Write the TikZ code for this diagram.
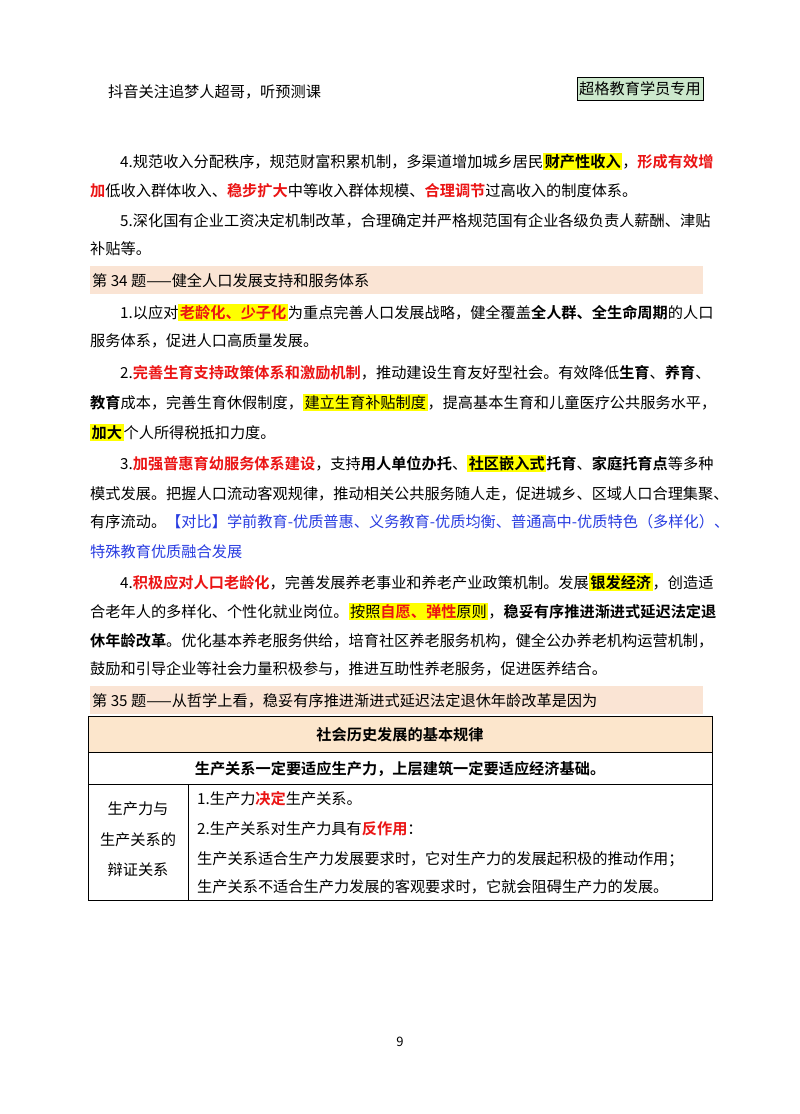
\documentclass[tikz,border=0pt]{standalone}
\usepackage{fontspec}
\setmainfont{Noto Sans CJK SC}[BoldFont={Noto Sans CJK SC Bold}]
\definecolor{myred}{RGB}{235,20,20}
\definecolor{hl}{RGB}{255,255,0}
\definecolor{band}{RGB}{250,228,212}
\definecolor{thead}{RGB}{252,230,204}
\definecolor{myblue}{RGB}{40,60,225}
\definecolor{grn}{RGB}{204,232,204}
\newcommand\B[1]{{\bfseries #1}}
\newcommand\R[1]{{\bfseries\color{myred}#1}}
\newcommand\Y[1]{{\setlength{\fboxsep}{1.5pt}\colorbox{hl}{#1}}}
\tikzset{ln/.style={anchor=base west,inner sep=0pt,font=\fontsize{15.2}{18}\selectfont},
 lc/.style={anchor=base,inner sep=0pt,font=\fontsize{15.2}{18}\selectfont}}
\begin{document}
\begin{tikzpicture}[x=1pt,y=-1pt]
\useasboundingbox[fill=white] (0,0) rectangle (800,1114);
\node[ln] (h1) at (108,97) {抖音关注追梦人超哥，听预测课};
\node[draw,fill=grn,inner sep=2pt,font=\fontsize{15.2}{18}\selectfont,minimum height=23pt] (h2) at (640,89) {超格教育学员专用};
% item 4/5
\node[ln] (a1) at (120,167) {4.规范收入分配秩序，规范财富积累机制，多渠道增加城乡居民\Y{\B{财产性收入}}，\R{形成有效增}};
\node[ln] (a2) at (90,196) {\R{加}低收入群体收入、\R{稳步扩大}中等收入群体规模、\R{合理调节}过高收入的制度体系。};
\node[ln] (a3) at (120,226) {5.深化国有企业工资决定机制改革，合理确定并严格规范国有企业各级负责人薪酬、津贴};
\node[ln] (a4) at (90,254) {补贴等。};
% band 34
\fill[band] (90,266) rectangle (703,294);
\node[ln] (b0) at (92,286) {第 34 题——健全人口发展支持和服务体系};
\node[ln] (b1) at (120,318) {1.以应对\Y{\R{老龄化、少子化}}为重点完善人口发展战略，健全覆盖\B{全人群、全生命周期}的人口};
\node[ln] (b2) at (90,346) {服务体系，促进人口高质量发展。};
\node[ln] (b3) at (120,378) {2.\R{完善生育支持政策体系和激励机制}，推动建设生育友好型社会。有效降低\B{生育}、\B{养育}、};
\node[ln] (b4) at (90,408) {\B{教育}成本，完善生育休假制度，\Y{建立生育补贴制度}，提高基本生育和儿童医疗公共服务水平，};
\node[ln] (b5) at (90,438) {\Y{\B{加大}}个人所得税抵扣力度。};
\node[ln] (c1) at (120,469) {3.\R{加强普惠育幼服务体系建设}，支持\B{用人单位办托}、\Y{\B{社区嵌入式}}\B{托育}、\B{家庭托育点}等多种};
\node[ln] (c2) at (90,499) {模式发展。把握人口流动客观规律，推动相关公共服务随人走，促进城乡、区域人口合理集聚、};
\node[ln] (c3) at (90,527) {有序流动。{\color{myblue}【对比】学前教育-优质普惠、义务教育-优质均衡、普通高中-优质特色（多样化）、}};
\node[ln] (c4) at (90,557) {\color{myblue}特殊教育优质融合发展};
\node[ln] (d1) at (120,588) {4.\R{积极应对人口老龄化}，完善发展养老事业和养老产业政策机制。发展\Y{\B{银发经济}}，创造适};
\node[ln] (d2) at (90,617) {合老年人的多样化、个性化就业岗位。\Y{按照\R{自愿、弹性}原则}，\B{稳妥有序推进渐进式延迟法定退}};
\node[ln] (d3) at (90,646) {\B{休年龄改革}。优化基本养老服务供给，培育社区养老服务机构，健全公办养老机构运营机制，};
\node[ln] (d4) at (90,674) {鼓励和引导企业等社会力量积极参与，推进互助性养老服务，促进医养结合。};
% band 35
\fill[band] (90,686) rectangle (703,714);
\node[ln] (e0) at (92,706) {第 35 题——从哲学上看，稳妥有序推进渐进式延迟法定退休年龄改革是因为};
% table
\fill[thead] (88,716) rectangle (712,752);
\draw[line width=0.8pt] (88,716) rectangle (712,900);
\draw[line width=0.8pt] (88,752) -- (712,752);
\draw[line width=0.8pt] (88,784) -- (712,784);
\draw[line width=0.8pt] (188,784) -- (188,900);
\node[lc] (t1) at (400,740) {\B{社会历史发展的基本规律}};
\node[lc] (t2) at (400,774) {\B{生产关系一定要适应生产力，上层建筑一定要适应经济基础。}};
\node[lc] (l1) at (138,814) {生产力与};
\node[lc] (l2) at (138,845) {生产关系的};
\node[lc] (l3) at (138,875) {辩证关系};
\node[ln] (r1) at (197,804) {1.生产力\R{决定}生产关系。};
\node[ln] (r2) at (197,834) {2.生产关系对生产力具有\R{反作用}：};
\node[ln] (r3) at (197,864) {生产关系适合生产力发展要求时，它对生产力的发展起积极的推动作用；};
\node[ln] (r4) at (197,892) {生产关系不适合生产力发展的客观要求时，它就会阻碍生产力的发展。};
\node[lc,font=\fontsize{13}{15}\selectfont] (pg) at (400,1046) {9};
\end{tikzpicture}
\end{document}
